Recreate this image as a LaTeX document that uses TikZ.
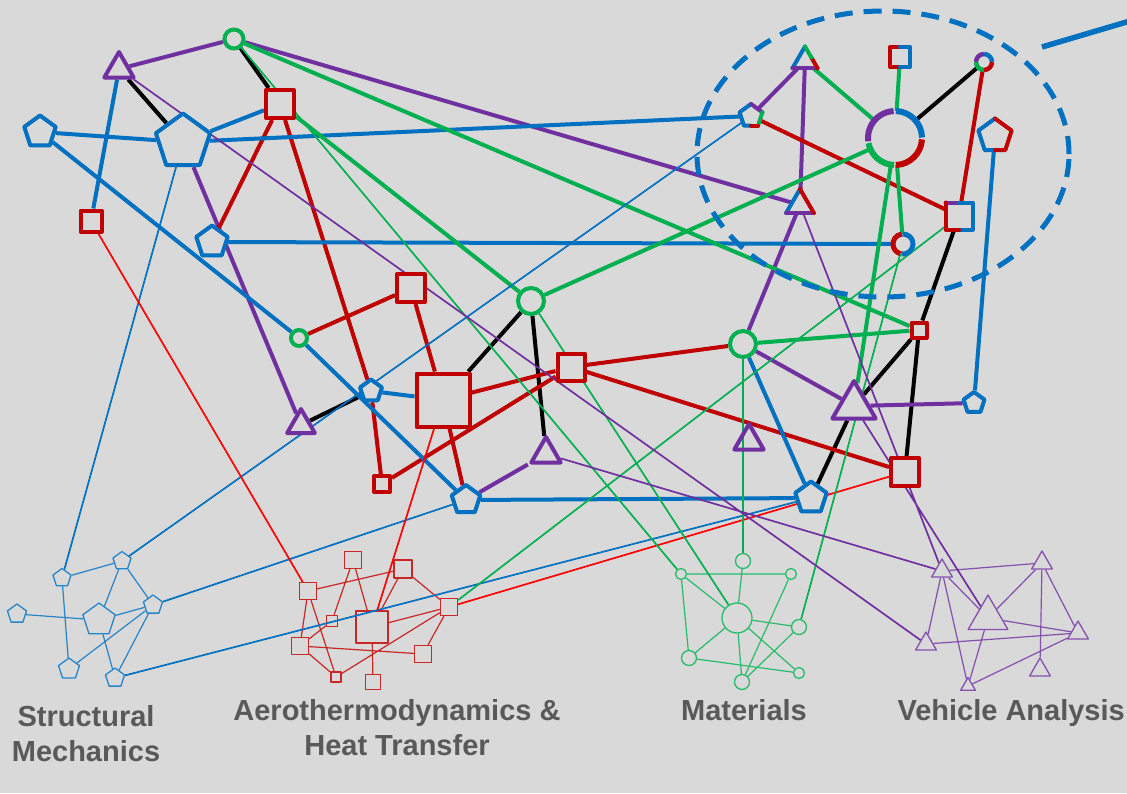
\documentclass[tikz,border=0pt]{standalone}
\usepackage{fontspec}
\setmainfont{Liberation Sans}
\usetikzlibrary{shapes.geometric,backgrounds}
\pgfdeclarelayer{front}
\pgfsetlayers{background,main,front}
\definecolor{Canvas}{HTML}{D9D9D9}
\definecolor{Ocean}{HTML}{0070C0}
\definecolor{Crimson}{HTML}{C00000}
\definecolor{Leaf}{HTML}{00B050}
\definecolor{Plum}{HTML}{7030A0}
\definecolor{Signal}{HTML}{FF0000}
\definecolor{Ink}{HTML}{595959}

\begin{document}
\begin{tikzpicture}[x=1pt, y=-1pt,
    tri/.style={regular polygon, regular polygon sides=3, draw=Plum, fill=Canvas, line width=4pt, line join=round, inner sep=0pt, minimum size=#1},
    pent/.style={regular polygon, regular polygon sides=5, draw=Ocean, fill=Canvas, line width=4pt, line join=round, inner sep=0pt, minimum size=#1},
    box/.style={rectangle, draw=Crimson, fill=Canvas, line width=4pt, line join=round, inner sep=0pt, minimum size=#1},
    ring/.style={circle, draw=Leaf, fill=Canvas, line width=4pt, inner sep=0pt, minimum size=#1},
    stri/.style={tri=#1, draw=Plum!85, line width=1.3pt},
    spent/.style={pent=#1, draw=Ocean!85, line width=1.3pt},
    sbox/.style={box=#1, draw=Crimson!85, line width=1.3pt},
    sring/.style={ring=#1, draw=Leaf!85, line width=1.3pt},
    mixed/.style={draw=none, outer sep=0pt},
    seg/.style={line width=4pt, line cap=round, line join=round},
    bond/.style={line width=4pt},
    tie/.style={line width=1.7pt},
    web/.style={line width=1.2pt},
    grouptext/.style={text=Ink, font=\bfseries\fontsize{29}{35}\selectfont, align=center}
  ]
  \useasboundingbox (0,0) rectangle (1127,793);

  \begin{pgfonlayer}{background}
    \fill[Canvas] (0,0) rectangle (1127,793);
    % structural mechanics
    \node[spent=19] (b1) at (62,578) {};
    \node[spent=19] (b2) at (122,561) {};
    \node[spent=20] (b3) at (17,614) {};
    \node[spent=34] (b4) at (99,620) {};
    \node[spent=20] (b5) at (153,605) {};
    \node[spent=22] (b6) at (69,669) {};
    \node[spent=20] (b7) at (115,678) {};
    \draw[web, Ocean!85] (b1) -- (b2) (b1) -- (b6) (b2) -- (b4) (b2) -- (b5) (b3) -- (b4)
      (b4) -- (b5) (b4) -- (b7) (b5) -- (b6) (b5) -- (b7);
    % aerothermodynamics
    \node[sbox=17] (r1) at (308,591) {};
    \node[sbox=17] (r2) at (353,560) {};
    \node[sbox=18] (r3) at (403,569) {};
    \node[sbox=11] (r4) at (332,621) {};
    \node[sbox=32] (r5) at (372,627) {};
    \node[sbox=17] (r6) at (449,607) {};
    \node[sbox=17] (r7) at (300,646) {};
    \node[sbox=17] (r8) at (423,654) {};
    \node[sbox=10] (r9) at (336,677) {};
    \node[sbox=15] (r10) at (373,682) {};
    \draw[web, Crimson!85] (r1) -- (r3) (r1) -- (r7) (r1) -- (r9) (r2) -- (r4) (r2) -- (r5)
      (r3) -- (r5) (r3) -- (r6) (r4) -- (r7) (r5) -- (r6) (r5) -- (r10) (r7) -- (r8)
      (r7) -- (r9) (r6) -- (r8) (r6) -- (r9);
    % materials
    \node[sring=15] (g1) at (743,561) {};
    \node[sring=11] (g2) at (681,574) {};
    \node[sring=11] (g3) at (791,574) {};
    \node[sring=30] (g4) at (737,618) {};
    \node[sring=15] (g5) at (799,627) {};
    \node[sring=15] (g6) at (689,658) {};
    \node[sring=11] (g7) at (799,673) {};
    \node[sring=15] (g8) at (742,682) {};
    \draw[web, Leaf!85] (g2) -- (g3) (g2) -- (g4) (g2) -- (g6) (g1) -- (g4) (g3) -- (g8)
      (g4) -- (g5) (g4) -- (g6) (g4) -- (g8) (g4) -- (g7) (g5) -- (g8) (g6) -- (g7);
    % vehicle analysis
    \node[stri=24] (v1) at (942,571) {};
    \node[stri=24] (v2) at (1042,563) {};
    \node[stri=46] (v3) at (988,618) {};
    \node[stri=24] (v4) at (926,644) {};
    \node[stri=24] (v5) at (1078,633) {};
    \node[stri=24] (v6) at (1040,670) {};
    \node[stri=17] (v7) at (968,686) {};
    \draw[web, Plum!85] (v1) -- (v2) (v1) -- (v3) (v1) -- (v4) (v1) -- (v7) (v2) -- (v3)
      (v2) -- (v5) (v2) -- (v6) (v3) -- (v5) (v3) -- (v7) (v4) -- (v5) (v5) -- (v7);
  \end{pgfonlayer}

  \begin{pgfonlayer}{front}
    \node[tri=34] (T1) at (119,69) {};
    \node[tri=32] (T2) at (301,425) {};
    \node[tri=34] (T3) at (546,454) {};
    \node[tri=34, fill=none] (T4) at (749,441) {};
    \node[tri=50] (T5) at (854,406) {};
    \node[ring=19] (C1) at (234,39) {};
    \node[ring=16] (C2) at (299,338) {};
    \node[ring=26] (C3) at (531,301) {};
    \node[ring=26] (C4) at (743,344) {};
    \node[box=28] (S1) at (280,104) {};
    \node[box=21] (S2) at (91,221) {};
    \node[box=28] (S3) at (411,288) {};
    \node[box=53] (S4) at (443,400) {};
    \node[box=27] (S5) at (571,367) {};
    \node[box=16] (S6) at (382,484) {};
    \node[box=28] (S7) at (905,472) {};
    \node[box=15] (S8) at (919,330) {};
    \node[pent=33] (P1) at (40,132) {};
    \node[pent=57] (P2) at (183,142) {};
    \node[pent=33] (P3) at (212,242) {};
    \node[pent=23] (P4) at (371,391) {};
    \node[pent=30] (P5) at (466,500) {};
    \node[pent=33] (P6) at (811,498) {};
    \node[pent=22] (P7) at (974,403) {};
    % shared nodes
    \node[tri=29, mixed] (T6) at (805,61) {};
    \draw[seg, Ocean] (T6.corner 1) -- (T6.corner 2);
    \draw[seg, Plum] (T6.corner 2) -- (T6.corner 3);
    \draw[seg, Crimson] (T6.corner 3) -- (T6.side 3);
    \draw[seg, Leaf] (T6.side 3) -- (T6.corner 1);
    \node[tri=32, mixed] (T7) at (800,205) {};
    \draw[seg, Ocean] (T7.corner 1) -- (T7.corner 2);
    \draw[seg, Plum] (T7.corner 2) -- (T7.corner 3);
    \draw[seg, Crimson] (T7.corner 3) -- (T7.corner 1);
    \node[pent=24, mixed] (P8) at (751,116) {};
    \draw[seg, Ocean] (P8.side 3) -- (P8.corner 3) -- (P8.corner 2) -- (P8.corner 1);
    \draw[seg, Plum] (P8.corner 1) -- (P8.corner 5);
    \draw[seg, Leaf] (P8.corner 5) -- (P8.corner 4);
    \draw[seg, Crimson] (P8.corner 4) -- (P8.side 3);
    \node[pent=35, mixed] (P9) at (995,136) {};
    \draw[seg, Ocean] (P9.side 3) -- (P9.corner 3) -- (P9.corner 2) -- (P9.corner 1);
    \draw[seg, Crimson] (P9.corner 1) -- (P9.corner 5) -- (P9.corner 4) -- (P9.side 3);
    \node[box=20, mixed] (S9) at (900,57) {};
    \draw[seg, Crimson] (S9.north) -- (S9.north west) -- (S9.south west) -- (S9.south);
    \draw[seg, Ocean] (S9.north) -- (S9.north east) -- (S9.south east) -- (S9.south);
    \node[box=27, mixed] (S10) at (959,216) {};
    \draw[seg, Plum] (S10.north west) -- (S10.north);
    \draw[seg, Ocean] (S10.north) -- (S10.north east) -- (S10.south east) -- (S10.south);
    \draw[seg, Crimson] (S10.south) -- (S10.south west) -- (S10.north west);
    \node[ring=54, mixed] (C5) at (895,138) {};
    \draw[seg, line cap=butt, line width=6pt, Plum] (C5.93) arc[start angle=93, end angle=187, radius=27pt];
    \draw[seg, line cap=butt, line width=6pt, Leaf] (C5.191) arc[start angle=191, end angle=268, radius=27pt];
    \draw[seg, line cap=butt, line width=6pt, Crimson] (C5.272) arc[start angle=272, end angle=357, radius=27pt];
    \draw[seg, line cap=butt, line width=6pt, Ocean] (C5.1) arc[start angle=1, end angle=88, radius=27pt];
    \node[ring=16, mixed] (C6) at (984,62) {};
    \draw[seg, line cap=butt, line width=4.5pt, Ocean] (C6.0) arc[start angle=0, end angle=90, radius=8pt];
    \draw[seg, line cap=butt, line width=4.5pt, Plum] (C6.90) arc[start angle=90, end angle=180, radius=8pt];
    \draw[seg, line cap=butt, line width=4.5pt, Leaf] (C6.180) arc[start angle=180, end angle=270, radius=8pt];
    \draw[seg, line cap=butt, line width=4.5pt, Crimson] (C6.270) arc[start angle=270, end angle=360, radius=8pt];
    \node[ring=20, mixed] (C7) at (903,244) {};
    \draw[seg, line cap=butt, line width=5pt, Crimson] (C7.98) arc[start angle=98, end angle=255, radius=10pt];
    \draw[seg, line cap=butt, line width=5pt, Ocean] (C7.-100) arc[start angle=-100, end angle=92, radius=10pt];
    % group names
    \node[grouptext] (labStruct) at (86,734) {Structural\\Mechanics};
    \node[grouptext] (labAero) at (397,728) {Aerothermodynamics \&\\Heat Transfer};
    \node[grouptext, anchor=base] (labMat) at (744,720) {Materials};
    \node[grouptext, anchor=base east, inner xsep=0pt] (labVeh) at (1125,720) {Vehicle Analysis};
  \end{pgfonlayer}

  % links in the upper graph
  \draw[bond, black] (C1) -- (S1) (T1) -- (P2) (C3) -- (S4) (C3) -- (T3) (T2) -- (P4)
    (C5) -- (C6) (S10) -- (S8) (S8) -- (T5) (T5) -- (P6) (S8) -- (S7);
  \draw[bond, Plum] (T1) -- (C1) (C1) -- (T7) (P2) -- (T2) (P8) -- (T6) (T6) -- (T7)
    (T7) -- (C4) (C4) -- (T5) (T5) -- (P7) (T3) -- (P5);
  \draw[bond, Crimson] (S1) -- (P3) (S1) -- (P4) (P4) -- (S6) (C2) -- (S3) (S3) -- (S4)
    (S4) -- (S5) (S4) -- (P5) (S6) -- (S5) (S5) -- (C4) (S5) -- (S7) (P8) -- (S10) (C6) -- (S10);
  \draw[bond, Ocean] (T1) -- (S2) (P1) -- (P2) (P2) -- (S1) (P2) -- (P8) (P1) -- (C2)
    (C2) -- (P5) (P3) -- (C7) (P4) -- (S4) (P5) -- (P6) (C4) -- (P6) (P9) -- (P7);
  \draw[bond, Leaf] (C1) -- (S8) (S1) -- (C3) (C3) -- (C5) (C4) -- (S8) (T6) -- (C5)
    (S9) -- (C5) (C5) -- (C7) (C5) -- (T5);

  % links down to the groups
  \draw[tie, Ocean] (b1) -- (P2) (b2) -- (P8) (b5) -- (P5) (b7) -- (P6);
  \draw[tie, Signal] (S2) -- (r1) (r5) -- (S4) (r6) -- (S7);
  \draw[tie, Leaf] (C1) -- (g2) (C3) -- (g4) (C4) -- (g1) (C7) -- (g5) (r6) -- (S10);
  \draw[tie, Plum] (T1) -- (v4) (T3) -- (v1) (T7) -- (v1) (T5) -- (v3);

  % focus ring
  \draw[Ocean, line width=5pt, dash pattern=on 18pt off 11pt] (883,154) ellipse [x radius=186pt, y radius=143pt];
  \coordinate (tailA) at (1042,47);
  \coordinate (tailB) at (1130,21);
  \draw[Ocean, line width=5.5pt] (tailA) -- (tailB);
\end{tikzpicture}
\end{document}
